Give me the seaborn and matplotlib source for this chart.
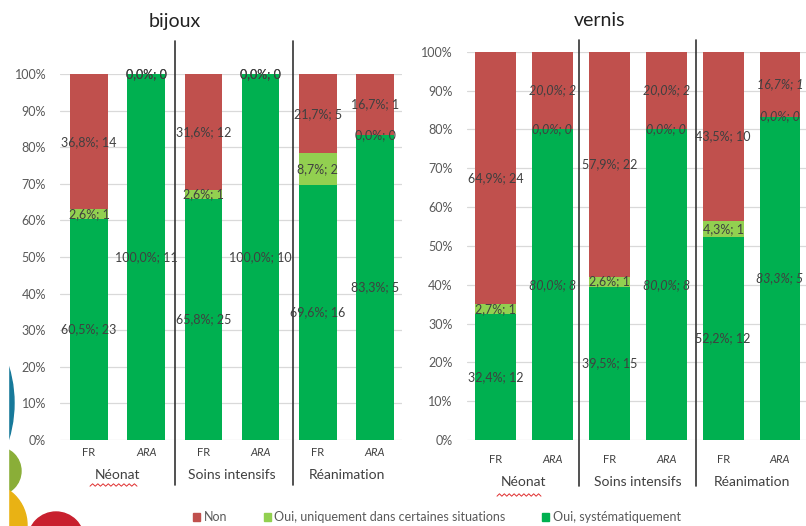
import numpy as np
import pandas as pd
import matplotlib.pyplot as plt
import seaborn as sns
from matplotlib.patches import Patch, Circle, Rectangle

# categories
groups = ["Néonat", "Soins intensifs", "Réanimation"]
regions = ["FR", "ARA"]
bar_ids = [f"{g} {r}" for g in groups for r in regions]

# bijoux (order: Néonat FR, Néonat ARA, Soins FR, Soins ARA, Réa FR, Réa ARA)
bijoux_syst_pct = [60.5, 100.0, 65.8, 100.0, 69.6, 83.3]
bijoux_syst_n = [23, 11, 25, 10, 16, 5]
bijoux_cert_pct = [2.6, 0.0, 2.6, 0.0, 8.7, 0.0]
bijoux_cert_n = [1, 0, 1, 0, 2, 0]
bijoux_non_pct = [36.8, 0.0, 31.6, 0.0, 21.7, 16.7]
bijoux_non_n = [14, 0, 12, 0, 5, 1]

# vernis
vernis_syst_pct = [32.4, 80.0, 39.5, 80.0, 52.2, 83.3]
vernis_syst_n = [12, 8, 15, 8, 12, 5]
vernis_cert_pct = [2.7, 0.0, 2.6, 0.0, 4.3, 0.0]
vernis_cert_n = [1, 0, 1, 0, 1, 0]
vernis_non_pct = [64.9, 20.0, 57.9, 20.0, 43.5, 16.7]
vernis_non_n = [24, 2, 22, 2, 10, 1]

series_names = ["Non", "Oui, uniquement dans certaines situations", "Oui, systématiquement"]
col_non = "#C0504D"
col_cert = "#92D050"
col_syst = "#00B050"
txt_col = "#404040"
tick_col = "#595959"

sns.set_theme(style="white")
plt.rcParams["font.family"] = ["Lato", "DejaVu Sans"]

W, H = 806, 526
fig = plt.figure(figsize=(W / 100, H / 100), dpi=100)


def px_ax(x0, y_bottom, x1, y_top):
    return [x0 / W, 1 - y_bottom / H, (x1 - x0) / W, (y_bottom - y_top) / H]


def label(pct, n):
    return f"{pct:.1f}%; {n}".replace(".", ",")


def draw_panel(ax, syst_pct, syst_n, cert_pct, cert_n, non_pct, non_n,
               width, xlim, seps, sep_top, sep_bot, group_y, tick_pad, ara_italic):
    syst = np.array(syst_pct)
    cert = np.array(cert_pct)
    non = np.array(non_pct)
    df = pd.DataFrame({"bar": bar_ids,
                       "top": syst + cert + non,
                       "mid": syst + cert,
                       "low": syst})
    sns.barplot(data=df, x="bar", y="top", color=col_non, saturation=1,
                width=width, linewidth=0, ax=ax)
    sns.barplot(data=df, x="bar", y="mid", color=col_cert, saturation=1,
                width=width, linewidth=0, ax=ax)
    sns.barplot(data=df, x="bar", y="low", color=col_syst, saturation=1,
                width=width, linewidth=0, ax=ax)

    for i in range(len(bar_ids)):
        style = "italic" if (ara_italic and i % 2 == 1) else "normal"
        segs = [(syst[i] / 2, label(syst[i], syst_n[i])),
                (syst[i] + cert[i] / 2, label(cert[i], cert_n[i])),
                (syst[i] + cert[i] + non[i] / 2, label(non[i], non_n[i]))]
        for y, t in segs:
            ax.text(i, y, t, ha="center", va="center", fontsize=9,
                    color=txt_col, fontstyle=style)

    ax.set_ylim(0, 100)
    ax.set_xlim(*xlim)
    ax.set_yticks(np.arange(0, 101, 10))
    ax.set_yticklabels([f"{v}%" for v in range(0, 101, 10)])
    ax.yaxis.grid(True, color="#d9d9d9", linewidth=0.9)
    ax.set_axisbelow(True)
    sns.despine(ax=ax, left=True, bottom=True)
    ax.set_xlabel("")
    ax.set_ylabel("")
    ax.tick_params(axis="y", length=0, labelsize=9, labelcolor=tick_col, pad=10)
    ax.tick_params(axis="x", length=0, labelsize=8, labelcolor=txt_col, pad=tick_pad)
    ax.set_xticks(range(len(bar_ids)))
    ax.set_xticklabels(regions * len(groups))
    for j, tl in enumerate(ax.get_xticklabels()):
        if j % 2 == 1:
            tl.set_fontstyle("italic")

    tr = ax.get_xaxis_transform()
    for s in seps:
        ax.plot([s, s], [sep_bot, sep_top], color="#333333", lw=1.2,
                transform=tr, clip_on=False)
    for k, g in enumerate(groups):
        ax.text(2 * k + 0.5, group_y, g, transform=tr, ha="center", va="center",
                fontsize=10, color=txt_col)


ax1 = fig.add_axes(px_ax(60, 440, 402, 74))
draw_panel(ax1, bijoux_syst_pct, bijoux_syst_n, bijoux_cert_pct, bijoux_cert_n,
           bijoux_non_pct, bijoux_non_n, 0.655, (-0.507, 5.47),
           [1.5, 3.57], 1.091, -0.123, -0.0956, 5, False)
ax2 = fig.add_axes(px_ax(466.5, 440, 806, 51.7))
draw_panel(ax2, vernis_syst_pct, vernis_syst_n, vernis_cert_pct, vernis_cert_n,
           vernis_non_pct, vernis_non_n, 0.72, (-0.51, 5.457),
           [1.46, 3.53], 1.030, -0.118, -0.107, 10, True)

# wavy red spell-check underline under "Néonat"
for x0, x1, yc in [(90, 137, 485), (497, 541, 495)]:
    xs = np.linspace(x0, x1, 19)
    ys = yc + np.where(np.arange(19) % 2 == 0, 1.2, -1.2)
    fig.add_artist(plt.Line2D(xs / W, 1 - ys / H, color="#e03030", lw=0.7))

fig.text(175 / W, 1 - 22 / H, "bijoux", ha="center", va="center", fontsize=14, color="#222222")
fig.text(600 / W, 1 - 21 / H, "vernis", ha="center", va="center", fontsize=14, color="#222222")

handles = [Patch(color=col_non), Patch(color=col_cert), Patch(color=col_syst)]
fig.legend(handles, series_names, loc="center", bbox_to_anchor=(437 / W, 1 - 517 / H),
           ncol=3, frameon=False, fontsize=9, handlelength=0.55, handleheight=0.6,
           handletextpad=0.3, columnspacing=2.9, labelcolor=tick_col)

# decorative slide circles at left edge
dec = [(-112, 403, 126, "#17799a"), (-3, 471, 24, "#8aae38"),
       (-15, 525, 42, "#e9b214"), (56, 540, 28, "#c8202e")]
for cx, cy, r, c in dec:
    fig.add_artist(Circle((cx / 100, (H - cy) / 100), r / 100, color=c,
                          transform=fig.dpi_scale_trans, zorder=-2))
fig.add_artist(Rectangle((0, 0), 8 / W, 1, color="white", transform=fig.transFigure, zorder=-1))

fig.savefig("out.png", dpi=100)
